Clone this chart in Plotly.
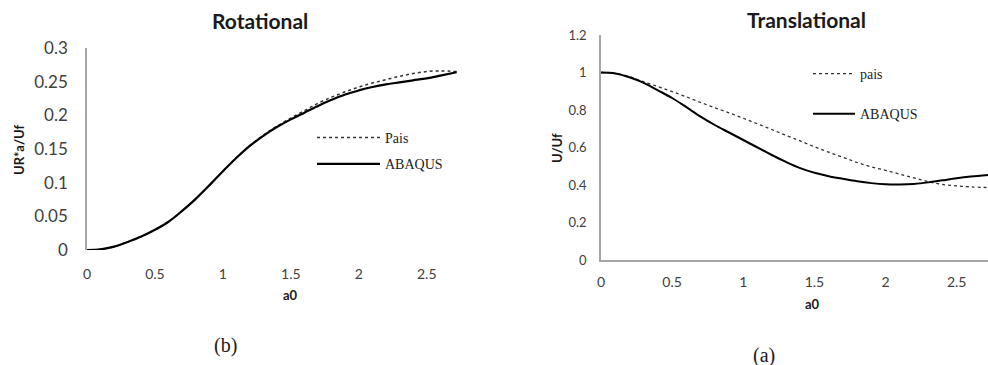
import plotly.graph_objects as go

# ---- data ----
a0_rot = [0, 0.1, 0.2, 0.3, 0.4, 0.5, 0.6, 0.7, 0.8, 0.9, 1.0, 1.1, 1.2, 1.3, 1.4, 1.5,
          1.6, 1.7, 1.8, 1.9, 2.0, 2.1, 2.2, 2.3, 2.4, 2.5, 2.6, 2.72]
rot_abaqus = [0, 0.001, 0.005, 0.012, 0.02, 0.030, 0.042, 0.058, 0.076, 0.096, 0.117, 0.137,
              0.155, 0.170, 0.183, 0.194, 0.204, 0.214, 0.223, 0.231, 0.237, 0.242, 0.246,
              0.249, 0.252, 0.255, 0.259, 0.264]
rot_pais = [0, 0.001, 0.005, 0.012, 0.02, 0.030, 0.042, 0.058, 0.076, 0.096, 0.117, 0.137,
            0.155, 0.171, 0.184, 0.196, 0.207, 0.218, 0.227, 0.235, 0.242, 0.248, 0.253,
            0.258, 0.262, 0.265, 0.266, 0.265]

a0_tr = [0, 0.1, 0.2, 0.3, 0.4, 0.5, 0.6, 0.7, 0.8, 0.9, 1.0, 1.1, 1.2, 1.3, 1.4, 1.5,
         1.6, 1.7, 1.8, 1.9, 2.0, 2.1, 2.2, 2.3, 2.4, 2.5, 2.6, 2.74]
tr_abaqus = [1.0, 0.995, 0.975, 0.945, 0.905, 0.864, 0.815, 0.765, 0.72, 0.68, 0.64, 0.60,
             0.56, 0.523, 0.49, 0.465, 0.447, 0.433, 0.42, 0.41, 0.404, 0.403, 0.406,
             0.414, 0.425, 0.436, 0.445, 0.455]
tr_pais = [1.0, 0.995, 0.978, 0.95, 0.925, 0.898, 0.87, 0.84, 0.812, 0.785, 0.756, 0.726,
           0.696, 0.665, 0.635, 0.604, 0.575, 0.548, 0.52, 0.497, 0.478, 0.458, 0.438,
           0.418, 0.403, 0.395, 0.39, 0.386]

rot_ticks_y = [0, 0.05, 0.1, 0.15, 0.2, 0.25, 0.3]
tr_ticks_y = [0, 0.2, 0.4, 0.6, 0.8, 1, 1.2]
ticks_x = [0, 0.5, 1, 1.5, 2, 2.5]

W, H = 988, 365
sans = "Lato"
serif = "Liberation Serif"
tick_col = "#404040"

fig = go.Figure()
fig.add_trace(go.Scatter(x=a0_rot, y=rot_pais, name="Pais", mode="lines", line_shape="spline",
                         line=dict(color="#333333", width=1.5, dash="dot"),
                         xaxis="x", yaxis="y", legend="legend", legendgroup="a"))
fig.add_trace(go.Scatter(x=a0_rot, y=rot_abaqus, name="ABAQUS", mode="lines", line_shape="spline",
                         line=dict(color="black", width=2.2),
                         xaxis="x", yaxis="y", legend="legend", legendgroup="b"))
fig.add_trace(go.Scatter(x=a0_tr, y=tr_pais, name="pais", mode="lines", line_shape="spline",
                         line=dict(color="#333333", width=1.3, dash="dot"),
                         xaxis="x2", yaxis="y2", legend="legend2", legendgroup="c"))
fig.add_trace(go.Scatter(x=a0_tr, y=tr_abaqus, name="ABAQUS", mode="lines", line_shape="spline",
                         line=dict(color="black", width=2),
                         xaxis="x2", yaxis="y2", legend="legend2", legendgroup="d"))


def px(x):
    return x / W


def py(y):
    return 1 - y / H


base = dict(showgrid=False, zeroline=False, ticks="", automargin=False)

fig.update_layout(
    template="none",
    width=W, height=H, margin=dict(l=0, r=0, t=0, b=0, pad=0), autosize=False,
    paper_bgcolor="white", plot_bgcolor="white", hovermode=False,
    xaxis=dict(domain=[px(87), px(458)], range=[0, 2.73], tickvals=ticks_x, anchor="y",
               showline=False, ticklabelstandoff=14,
               tickfont=dict(family=sans, size=14, color=tick_col), **base),
    yaxis=dict(domain=[py(250), py(48)], range=[0, 0.3], tickvals=rot_ticks_y, anchor="x",
               showline=True, linecolor="#a6a6a6", linewidth=1.5, ticklabelstandoff=14,
               tickfont=dict(family=sans, size=17, color=tick_col), **base),
    xaxis2=dict(domain=[px(601), 1.0], range=[0, 2.72], tickvals=ticks_x, anchor="y2",
                showline=True, linecolor="#a6a6a6", linewidth=1.5, ticklabelstandoff=8,
                tickfont=dict(family=sans, size=14, color=tick_col), **base),
    yaxis2=dict(domain=[py(260), py(35)], range=[0, 1.2], tickvals=tr_ticks_y, anchor="x2",
                showline=True, linecolor="#a6a6a6", linewidth=1.5, ticklabelstandoff=10,
                tickfont=dict(family=sans, size=13, color=tick_col), **base),
    legend=dict(x=px(312), y=py(122), xanchor="left", yanchor="top", bgcolor="rgba(0,0,0,0)",
                font=dict(family=serif, size=14, color="#222222"), tracegroupgap=5,
                itemwidth=63),
    legend2=dict(x=px(808), y=py(58), xanchor="left", yanchor="top", bgcolor="rgba(0,0,0,0)",
                 font=dict(family=serif, size=14, color="#222222"), tracegroupgap=19,
                 itemwidth=42),
    showlegend=True,
)

annots = [
    dict(text="<b>Rotational</b>", x=px(260), y=py(21), size=21, family=sans, angle=0),
    dict(text="<b>Translational</b>", x=px(806), y=py(19), size=21, family=sans, angle=0),
    dict(text="<b>UR*a/Uf</b>", x=px(19), y=py(150), size=13, family=sans, angle=-90),
    dict(text="<b>U/Uf</b>", x=px(557), y=py(148), size=13, family=sans, angle=-90),
    dict(text="<b>a0</b>", x=px(290), y=py(295), size=13, family=sans, angle=0),
    dict(text="<b>a0</b>", x=px(812), y=py(304), size=13, family=sans, angle=0),
    dict(text="(b)", x=px(225), y=py(345), size=20, family=serif, angle=0),
    dict(text="(a)", x=px(764), y=py(355), size=20, family=serif, angle=0),
]
for a in annots:
    fig.add_annotation(text=a["text"], x=a["x"], y=a["y"], xref="paper", yref="paper",
                       showarrow=False, xanchor="center", yanchor="middle", textangle=a["angle"],
                       font=dict(family=a["family"], size=a["size"], color="#1a1a1a"))

fig.write_html("out.html", config={"displayModeBar": False},
               post_script="document.body.style.margin='0';")
